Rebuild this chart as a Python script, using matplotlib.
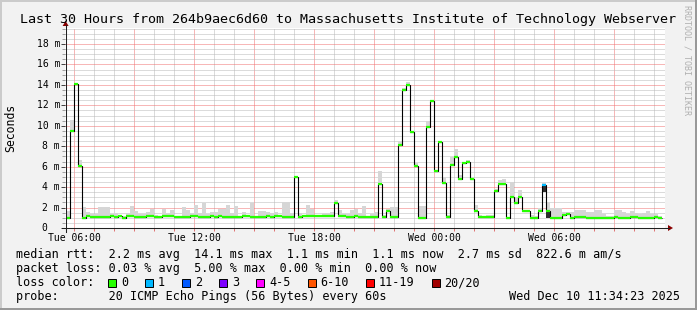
import numpy as np
import matplotlib.pyplot as plt
from matplotlib.patches import Rectangle, Polygon
from matplotlib.lines import Line2D

W, H = 697, 310
plt.rcParams['font.family'] = ['DejaVu Sans Mono']

# time in hours since Tue 00:00, 12 minute steps
t_first = 5.6
step_h = 0.2
view_from = 5 + 34 / 60 + 23 / 3600
view_to = view_from + 30

# median rtt per step (ms)
median = [1.0, 9.5, 14.1, 6.1, 1.0, 1.15, 1.1, 1.1, 1.1, 1.1,
          1.1, 1.15, 1.05, 1.15, 1.0, 1.15, 1.15, 1.05, 1.05, 1.05,
          1.15, 1.15, 1.05, 1.05, 1.15, 1.15, 1.15, 1.05, 1.05, 1.05,
          1.05, 1.15, 1.15, 1.05, 1.05, 1.05, 1.15, 1.05, 1.15, 1.05,
          1.1, 1.05, 1.05, 1.05, 1.15, 1.15, 1.1, 1.1, 1.1, 1.1,
          1.15, 1.1, 1.15, 1.15, 1.05, 1.05, 1.05, 5.0, 1.05, 1.15,
          1.15, 1.15, 1.15, 1.15, 1.15, 1.15, 1.15, 2.4, 1.15, 1.15,
          1.05, 1.05, 1.15, 1.1, 1.1, 1.1, 1.05, 1.1, 4.3, 1.1,
          1.7, 1.1, 1.1, 8.15, 13.5, 14.0, 9.4, 6.07, 1.0, 1.0,
          9.9, 12.45, 5.6, 8.45, 4.4, 1.1, 6.15, 6.95, 4.8, 6.4,
          6.5, 4.8, 1.7, 1.1, 1.1, 1.1, 1.07, 3.6, 4.3, 4.35,
          1.0, 3.07, 2.4, 3.07, 1.7, 1.7, 1.0, 1.0, 1.7, 4.17,
          1.7, 1.0, 1.0, 1.0, 1.3, 1.4, 1.0, 1.1, 1.1, 1.1,
          1.0, 1.0, 1.0, 1.0, 1.0, 1.0, 1.0, 1.1, 1.0, 1.0,
          1.0, 1.1, 1.1, 1.0, 1.0, 1.0, 1.0, 1.1, 1.0]

# top of the smoke (slowest ping) per step (ms)
smoke_top = [1.7, 10.6, 14.1, 6.65, 2.1, 1.6, 1.4, 1.4, 2.1, 2.1,
             2.1, 1.4, 1.5, 1.3, 1.2, 1.45, 2.15, 1.7, 1.35, 1.35,
             1.55, 1.9, 1.3, 1.2, 1.85, 1.45, 1.75, 1.2, 1.2, 2.05,
             1.75, 1.5, 2.25, 1.45, 2.4, 1.35, 1.55, 1.55, 1.9, 1.9,
             2.25, 1.5, 2.15, 1.2, 1.55, 1.2, 2.4, 1.2, 1.7, 1.7,
             1.6, 1.45, 1.55, 1.2, 2.55, 2.55, 1.45, 5.1, 1.45, 1.2,
             2.25, 1.85, 1.2, 1.2, 1.45, 1.45, 1.55, 2.75, 1.75, 1.35,
             1.35, 1.75, 1.9, 1.5, 2.15, 1.2, 1.4, 1.6, 5.6, 1.3,
             1.9, 2.1, 2.1, 8.5, 13.7, 14.3, 9.4, 6.4, 2.15, 2.15,
             10.5, 12.45, 5.6, 8.45, 4.95, 1.3, 6.9, 7.75, 5.15, 6.4,
             6.7, 4.8, 2.25, 1.3, 1.2, 1.25, 1.25, 3.8, 4.7, 4.75,
             1.0, 4.5, 3.07, 3.7, 1.7, 1.7, 1.3, 1.2, 2.0, 4.45,
             2.5, 2.0, 1.95, 1.95, 1.55, 1.55, 1.55, 1.8, 1.8, 1.8,
             1.55, 1.55, 1.8, 1.8, 1.4, 1.2, 1.2, 1.8, 1.8, 1.55,
             1.4, 1.65, 1.5, 1.4, 1.5, 1.65, 1.4, 1.4, 1.2]

# dense (dark) smoke below the median
dark_steps = [119, 120]
dark_lo = [3.5, 1.0]
dark_hi = [4.1, 1.7]

# steps with packet loss (pings lost of 20)
loss_steps = [119]
loss_counts = [1]

loss_labels = ['0', '1', '2', '3', '4-5', '6-10', '11-19', '20/20']
loss_colors = ['#26ff00', '#00b8ff', '#0059ff', '#7e00ff', '#ff00ff',
               '#ff5500', '#ff0000', '#a10000']

x_tick_hours = [6, 12, 18, 24, 30]
x_tick_labels = ['Tue 06:00', 'Tue 12:00', 'Tue 18:00', 'Wed 00:00', 'Wed 06:00']
y_tick_values = [0, 2, 4, 6, 8, 10, 12, 14, 16, 18]

title = 'Last 30 Hours from 264b9aec6d60 to Massachusetts Institute of Technology Webserver'
legend_rows = ['median rtt:  2.2 ms avg  14.1 ms max  1.1 ms min  1.1 ms now  2.7 ms sd  822.6 m am/s',
               'packet loss: 0.03 % avg  5.00 % max  0.00 % min  0.00 % now',
               'loss color:',
               'probe:       20 ICMP Echo Pings (56 Bytes) every 60s']
stamp = 'Wed Dec 10 11:34:23 2025'

med = np.array(median)
top = np.array(smoke_top)
edges = t_first + step_h * np.arange(len(med) + 1)
left = edges[:-1]

fig = plt.figure(figsize=(W / 100, H / 100), dpi=100, facecolor='#f2f2f2')
ax = fig.add_axes([65.4 / W, 82 / H, 600 / W, 200 / H])
ax.set_facecolor('white')
ax.set_xlim(view_from, view_to)
ax.set_ylim(0, 200 / 10.22)

ax.set_xticks(np.arange(6, 36, 3))
ax.set_xticks(np.arange(6, 36, 1), minor=True)
ax.set_yticks(np.arange(0, 19, 2))
ax.set_yticks(np.arange(0.5, 19.6, 0.5), minor=True)
ax.grid(which='minor', color='#b8b8b8', lw=0.72, ls=(0, (1, 1)))
ax.grid(which='major', color='#f07070', lw=0.72, ls=(0, (1, 1)))
ax.set_axisbelow(True)
ax.tick_params(labelbottom=False, labelleft=False)
ax.tick_params(axis='x', which='both', direction='out', length=2, width=0.7, color='#e07070')
ax.tick_params(axis='y', which='major', direction='out', length=3, width=0.7, color='#404040')
ax.tick_params(axis='y', which='minor', direction='out', length=2, width=0.7, color='#a0a0a0')
for s in ax.spines.values():
    s.set_visible(False)

# smoke
ax.bar(left, top - med, bottom=med, width=step_h, align='edge',
       color='#d6d6d6', lw=0, zorder=2)
ax.bar(left[dark_steps], np.array(dark_hi) - np.array(dark_lo), bottom=dark_lo,
       width=step_h, align='edge', color='#2e2e2e', lw=0, zorder=2)

# median line, coloured by loss
ax.stairs(med, edges, baseline=None, color='black', lw=0.8, zorder=3)
seg_colors = [loss_colors[0]] * len(med)
for i, n in zip(loss_steps, loss_counts):
    seg_colors[i] = loss_colors[n]
ax.hlines(med, left, edges[1:], colors=seg_colors, lw=1.6, zorder=4)

# axis labels
for v in y_tick_values:
    lab = f'{v} m' if v else '0'
    ax.annotate(lab, xy=(0, v), xycoords=('axes fraction', 'data'),
                xytext=(-5.4 if v else -18.4, 0), textcoords='offset pixels',
                ha='right', va='center', fontsize=7)
for t, lab in zip(x_tick_hours, x_tick_labels):
    ax.annotate(lab, xy=(t, 0), xycoords=('data', 'axes fraction'),
                xytext=(0, -10), textcoords='offset pixels',
                ha='center', va='center', fontsize=7)


def fx(x):
    return x / W


def fy(y):
    return 1 - y / H


# axes with arrows
fig.add_artist(Line2D([fx(62), fx(669)], [fy(228), fy(228)], color='#202020', lw=0.75))
fig.add_artist(Line2D([fx(65.6), fx(65.6)], [fy(232), fy(25)], color='#202020', lw=0.75))
fig.add_artist(Polygon([(fx(668), fy(225)), (fx(668), fy(231)), (fx(673), fy(228))],
                       closed=True, color='#8b0000', lw=0))
fig.add_artist(Polygon([(fx(62.6), fy(26)), (fx(68.6), fy(26)), (fx(65.6), fy(21))],
                       closed=True, color='#8b0000', lw=0))

fig.text(fx(348.5), fy(19), title, ha='center', va='center', fontsize=9.6)
fig.text(fx(10.5), fy(128), 'Seconds', rotation=90, ha='center', va='center', fontsize=8.3)
fig.text(fx(687.5), fy(5), 'RRDTOOL / TOBI OETIKER', rotation=-90, ha='center', va='top',
         fontsize=6, color='#b0b0b0')

row_y = [254.5, 268.5, 282.5, 296.3]
for y, row in zip(row_y, legend_rows):
    fig.text(fx(16), fy(y), row, ha='left', va='center', fontsize=8.5)
fig.text(fx(680), fy(row_y[3]), stamp, ha='right', va='center', fontsize=8.5)

# loss colour boxes
cw = 7.1
xb = 108
for lab, col in zip(loss_labels, loss_colors):
    fig.add_artist(Rectangle((fx(xb), fy(row_y[2] + 4)), 8 / W, 8 / H,
                             facecolor=col, edgecolor='black', lw=0.7))
    fig.text(fx(xb + 13), fy(row_y[2]), lab, ha='left', va='center', fontsize=8.5)
    xb = xb + 13 + len(lab) * cw + 17

# frame
fig.add_artist(Rectangle((0, fy(2)), 1, 2 / H, color='#cbcbcb', lw=0))
fig.add_artist(Rectangle((0, 0), 2 / W, 1, color='#cbcbcb', lw=0))
fig.add_artist(Rectangle((0, 0), 1, 2 / H, color='#999999', lw=0))
fig.add_artist(Rectangle((fx(695), 0), 2 / W, 1, color='#999999', lw=0))

fig.savefig('out.png', dpi=100, facecolor=fig.get_facecolor())
